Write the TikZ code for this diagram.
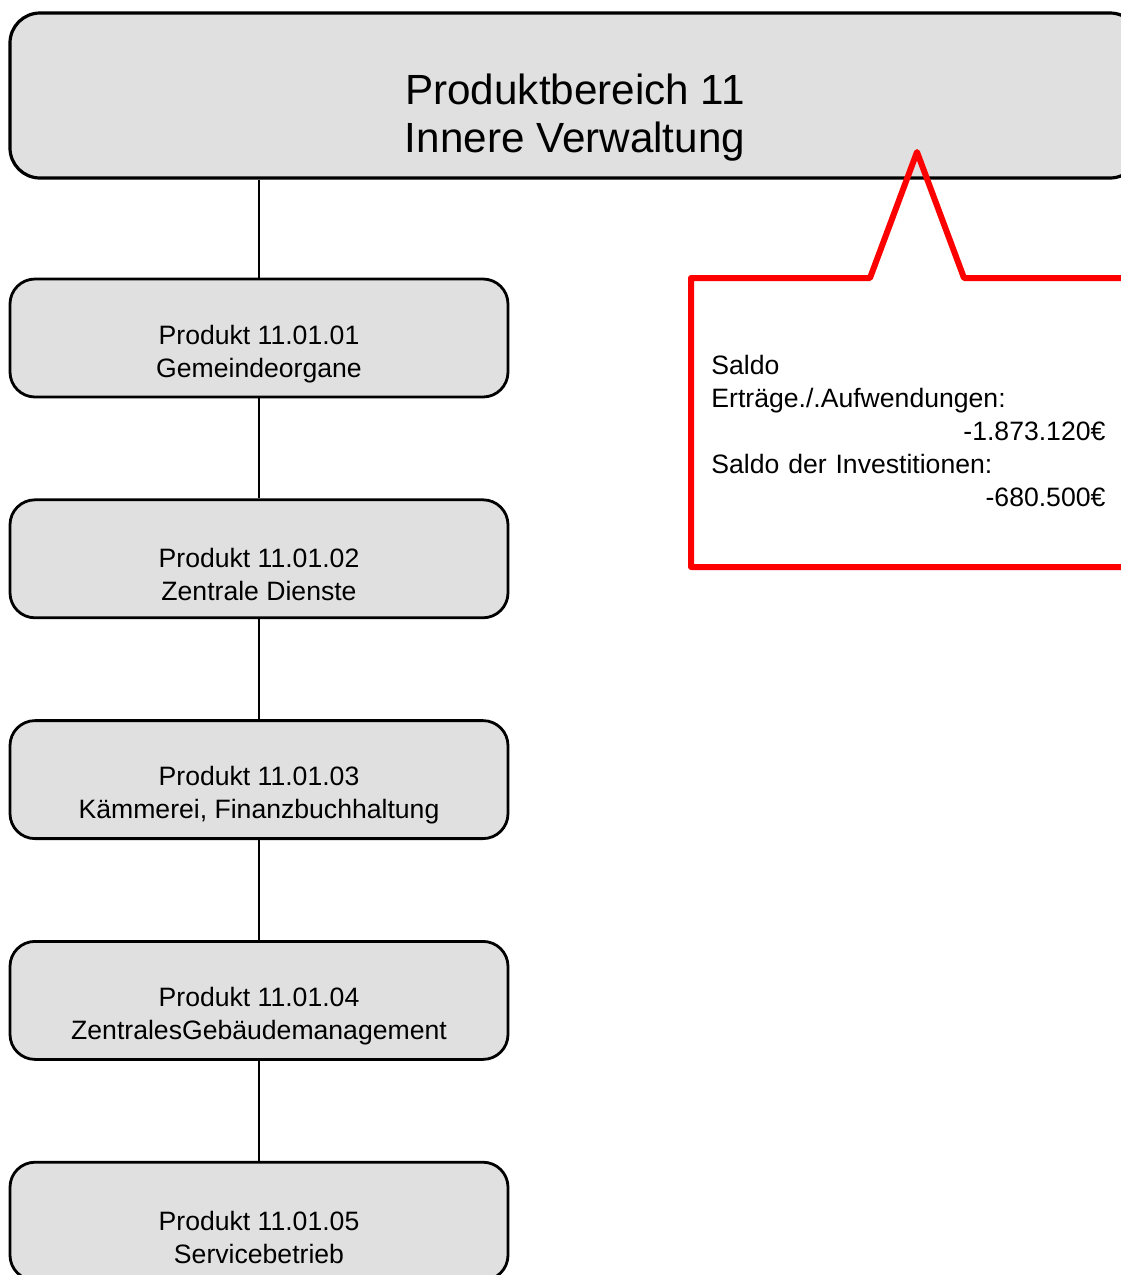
\documentclass[tikz,border=0pt]{standalone}
\usepackage{fontspec}
\setmainfont{Liberation Sans}
\usetikzlibrary{positioning}
\definecolor{boxgray}{HTML}{E0E0E0}
\tikzset{
    %Define style for the head box
    kopf/.style={
           rectangle,
           rounded corners=15pt,
           draw=black, line width=1.6pt,
           fill=boxgray,
           minimum width=565pt,
           minimum height=82.5pt},
    %Define style for product boxes
    produkt/.style={
           rectangle,
           rounded corners=12.5pt,
           draw=black, line width=1.4pt,
           fill=boxgray,
           minimum width=249pt,
           minimum height=59pt},
    kopftext/.style={align=center, font=\fontsize{21.1}{24}\selectfont},
    produkttext/.style={align=center, font=\fontsize{13.3}{16.5}\selectfont},
    % Define line style
    linie/.style={line width=1.4pt},
    % Define callout style
    sprechblase/.style={draw=red, line width=3pt, line join=round}
}
\begin{document}
\begin{tikzpicture}[x=0.5pt, y=-0.5pt, node distance=50pt]
 \useasboundingbox (0,0) rectangle (1120,1275);
 \node[kopf] (bereich) at (575,95.5) {};
 \node[kopftext] (bereichtext) at (575,118) {Produktbereich 11\\Innere Verwaltung};
 % product boxes
 \node[produkt] (p1) at (259,338) {};
 \node[produkt, below=of p1] (p2) {};
 \node[produkt, below=of p2] (p3) {};
 \node[produkt, below=of p3] (p4) {};
 \node[produkt, below=of p4] (p5) {};
 \node[produkttext] (p1text) at ([yshift=-8pt]p1.center) {Produkt 11.01.01\\Gemeindeorgane};
 \node[produkttext] (p2text) at ([yshift=-8pt]p2.center) {Produkt 11.01.02\\Zentrale Dienste};
 \node[produkttext] (p3text) at ([yshift=-8pt]p3.center) {Produkt 11.01.03\\Kämmerei, Finanzbuchhaltung};
 \node[produkttext] (p4text) at ([yshift=-8pt]p4.center) {Produkt 11.01.04\\ZentralesGebäudemanagement};
 \node[produkttext] (p5text) at ([yshift=-8pt]p5.center) {Produkt 11.01.05\\Servicebetrieb};
 % connectors
 \draw[linie] (p1.north |- bereich.south) -- (p1.north);
 \draw[linie] (p1.south) -- (p2.north);
 \draw[linie] (p2.south) -- (p3.north);
 \draw[linie] (p3.south) -- (p4.north);
 \draw[linie] (p4.south) -- (p5.north);
 % callout
 \coordinate (spitze) at (917,152);
 \coordinate (fussL) at (870,278);
 \coordinate (fussR) at (964,278);
 \coordinate (saldoNW) at (691,278);
 \coordinate (saldoNE) at (1130,278);
 \coordinate (saldoSE) at (1130,567);
 \coordinate (saldoSW) at (691,567);
 \draw[sprechblase] (fussL) -- (spitze) -- (fussR) -- (saldoNE) -- (saldoSE) -- (saldoSW) -- (saldoNW) -- cycle;
 \node[anchor=north west, inner sep=0pt, text width=197pt, align=left,
       font=\fontsize{13.3}{16.5}\selectfont] (saldotext) at (711,355)
      {Saldo\\Erträge./.Aufwendungen:\\\mbox{}\hfill -1.873.120€\\Saldo der Investitionen:\\\mbox{}\hfill -680.500€};
\end{tikzpicture}
\end{document}
